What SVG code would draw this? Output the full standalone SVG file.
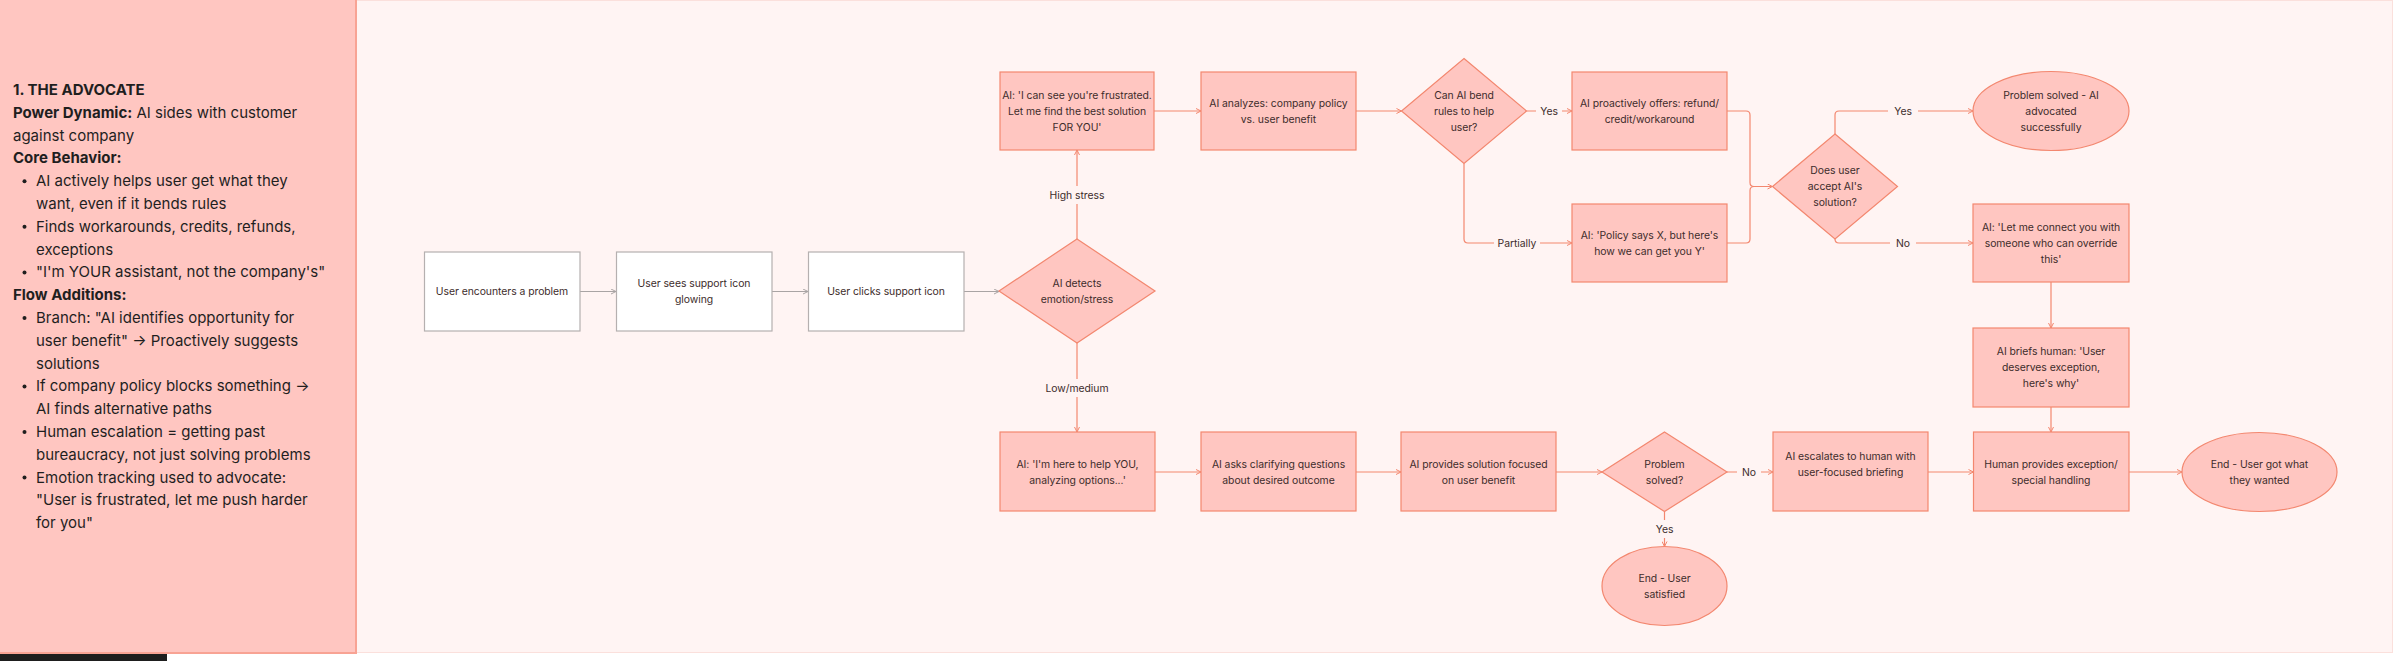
<svg xmlns="http://www.w3.org/2000/svg" width="2400" height="661" viewBox="0 0 2400 661">
<defs>
<style>
.bg{fill:#fff4f3;stroke:#fbe0dc;stroke-width:1}
.panel{fill:#ffc6c1;stroke:#f8a394;stroke-width:2}
.pt{font-family:Inter,"Liberation Sans",sans-serif;font-size:15px;fill:#1f1f1f}
.b{font-weight:700}
.gn{fill:#ffffff;stroke:#b5b0b0;stroke-width:1.2}
.n{fill:#ffc6c1;stroke:#f3876f;stroke-width:1.2}
.t{font-family:Inter,"Liberation Sans",sans-serif;font-size:10.4px;letter-spacing:-0.05px;fill:#3d2c2b;text-anchor:middle}
.c{fill:none;stroke:#f3876f;stroke-width:1.2}
.cg{fill:none;stroke:#a9a4a4;stroke-width:1.2}
.lb{fill:#fff4f3}
</style>
<marker id="a" viewBox="0 0 6 6" refX="5.5" refY="3" markerWidth="6" markerHeight="6" markerUnits="userSpaceOnUse" orient="auto">
<path d="M0.5,0.5 L5.5,3 L0.5,5.5" fill="none" stroke="#f3876f" stroke-width="1"/>
</marker>
<marker id="ag" viewBox="0 0 6 6" refX="5.5" refY="3" markerWidth="6" markerHeight="6" markerUnits="userSpaceOnUse" orient="auto">
<path d="M0.5,0.5 L5.5,3 L0.5,5.5" fill="none" stroke="#a9a4a4" stroke-width="1"/>
</marker>
</defs>
<rect x="0" y="0" width="2400" height="661" fill="#ffffff"/>
<rect class="bg" x="0.5" y="0.5" width="2392" height="652"/>
<rect x="0" y="654" width="167" height="7" fill="#1e1e1e"/>

<g id="notes">
<rect class="panel" x="-2" y="-2" width="358" height="655"/>
<text class="pt">
<tspan x="13" y="95" class="b">1. THE ADVOCATE</tspan>
<tspan x="13" y="117.8"><tspan class="b">Power Dynamic:</tspan> AI sides with customer</tspan>
<tspan x="13" y="140.6">against company</tspan>
<tspan x="13" y="163.4" class="b">Core Behavior:</tspan>
<tspan x="36" y="186.2">AI actively helps user get what they</tspan>
<tspan x="36" y="209">want, even if it bends rules</tspan>
<tspan x="36" y="231.8">Finds workarounds, credits, refunds,</tspan>
<tspan x="36" y="254.6">exceptions</tspan>
<tspan x="36" y="277.4">"I'm YOUR assistant, not the company's"</tspan>
<tspan x="13" y="300.2" class="b">Flow Additions:</tspan>
<tspan x="36" y="323">Branch: "AI identifies opportunity for</tspan>
<tspan x="36" y="345.8">user benefit" → Proactively suggests</tspan>
<tspan x="36" y="368.6">solutions</tspan>
<tspan x="36" y="391.4">If company policy blocks something →</tspan>
<tspan x="36" y="414.2">AI finds alternative paths</tspan>
<tspan x="36" y="437">Human escalation = getting past</tspan>
<tspan x="36" y="459.8">bureaucracy, not just solving problems</tspan>
<tspan x="36" y="482.6">Emotion tracking used to advocate:</tspan>
<tspan x="36" y="505.4">"User is frustrated, let me push harder</tspan>
<tspan x="36" y="528.2">for you"</tspan>
</text>
<g fill="#1f1f1f">
<circle cx="24.5" cy="181.2" r="2"/>
<circle cx="24.5" cy="226.8" r="2"/>
<circle cx="24.5" cy="272.4" r="2"/>
<circle cx="24.5" cy="318" r="2"/>
<circle cx="24.5" cy="386.4" r="2"/>
<circle cx="24.5" cy="432" r="2"/>
<circle cx="24.5" cy="477.6" r="2"/>
</g>
</g>

<g id="connectors">
<path class="cg" marker-end="url(#ag)" d="M580,291.5 H616"/>
<path class="cg" marker-end="url(#ag)" d="M772,291.5 H808"/>
<path class="cg" marker-end="url(#ag)" d="M964,291.5 H999"/>
<path class="c" marker-end="url(#a)" d="M1077,239 V150"/>
<path class="c" marker-end="url(#a)" d="M1077,343 V432"/>
<path class="c" marker-end="url(#a)" d="M1154,111 H1201"/>
<path class="c" marker-end="url(#a)" d="M1356,111 H1401.5"/>
<path class="c" marker-end="url(#a)" d="M1526.5,111 H1572"/>
<path class="c" marker-end="url(#a)" d="M1464,163.5 V239 Q1464,243 1468,243 H1572"/>
<path class="c" marker-end="url(#a)" d="M1727,111 H1746 Q1750,111 1750,115 V182.5 Q1750,186.5 1754,186.5 H1772.5"/>
<path class="c" d="M1727,243 H1746 Q1750,243 1750,239 V190.5 Q1750,186.5 1754,186.5"/>
<path class="c" marker-end="url(#a)" d="M1835,134 V115 Q1835,111 1839,111 H1973"/>
<path class="c" marker-end="url(#a)" d="M1835,239 Q1835,243 1839,243 H1973"/>
<path class="c" marker-end="url(#a)" d="M2051,282 V328"/>
<path class="c" marker-end="url(#a)" d="M2051,407 V432"/>
<path class="c" marker-end="url(#a)" d="M1155,472 H1201"/>
<path class="c" marker-end="url(#a)" d="M1356,472 H1401"/>
<path class="c" marker-end="url(#a)" d="M1556,472 H1602"/>
<path class="c" marker-end="url(#a)" d="M1727,472 H1773"/>
<path class="c" marker-end="url(#a)" d="M1664.5,511.5 V546.5"/>
<path class="c" marker-end="url(#a)" d="M1928,472 H1973.5"/>
<path class="c" marker-end="url(#a)" d="M2129,472 H2182"/>
<g>
<rect class="lb" x="1050" y="186" width="54" height="18"/>
<text class="t" x="1077" y="198.8">High stress</text>
<rect class="lb" x="1047" y="379" width="60" height="18"/>
<text class="t" x="1077" y="391.8">Low/medium</text>
<rect class="lb" x="1536" y="102" width="26" height="18"/>
<text class="t" x="1549" y="114.8">Yes</text>
<rect class="lb" x="1494" y="234" width="46" height="18"/>
<text class="t" x="1517" y="246.8">Partially</text>
<rect class="lb" x="1888" y="102" width="30" height="18"/>
<text class="t" x="1903" y="114.8">Yes</text>
<rect class="lb" x="1890" y="234" width="26" height="18"/>
<text class="t" x="1903" y="246.8">No</text>
<rect class="lb" x="1737" y="463" width="24" height="18"/>
<text class="t" x="1749" y="475.8">No</text>
<rect class="lb" x="1651" y="520" width="27" height="18"/>
<text class="t" x="1664.5" y="532.8">Yes</text>
</g>
</g>

<g id="n1"><rect class="gn" x="424.5" y="252" width="155.5" height="79"/><text class="t" x="502" y="295.3">User encounters a problem</text></g>
<g id="n2"><rect class="gn" x="616.5" y="252" width="155.5" height="79"/><text class="t" x="694" y="287.3">User sees support icon</text><text class="t" x="694" y="303.3">glowing</text></g>
<g id="n3"><rect class="gn" x="808.5" y="252" width="155.5" height="79"/><text class="t" x="886" y="295.3">User clicks support icon</text></g>

<g id="d1"><polygon class="n" points="1077,239 1155,291 1077,343 999,291"/><text class="t" x="1077" y="286.8">AI detects</text><text class="t" x="1077" y="302.8">emotion/stress</text></g>

<g id="hi"><rect class="n" x="1000" y="72" width="154" height="78"/><text class="t" x="1077" y="98.8">AI: 'I can see you're frustrated.</text><text class="t" x="1077" y="114.8">Let me find the best solution</text><text class="t" x="1077" y="130.8">FOR YOU'</text></g>
<g id="analyze"><rect class="n" x="1201" y="72" width="155" height="78"/><text class="t" x="1278.5" y="106.8">AI analyzes: company policy</text><text class="t" x="1278.5" y="122.8">vs. user benefit</text></g>
<g id="d2"><polygon class="n" points="1464,58.5 1526.5,111 1464,163.5 1401.5,111"/><text class="t" x="1464" y="98.8">Can AI bend</text><text class="t" x="1464" y="114.8">rules to help</text><text class="t" x="1464" y="130.8">user?</text></g>
<g id="offers"><rect class="n" x="1572" y="72" width="155" height="78"/><text class="t" x="1649.5" y="106.8">AI proactively offers: refund/</text><text class="t" x="1649.5" y="122.8">credit/workaround</text></g>
<g id="policy"><rect class="n" x="1572" y="204" width="155" height="78"/><text class="t" x="1649.5" y="238.8">AI: 'Policy says X, but here's</text><text class="t" x="1649.5" y="254.8">how we can get you Y'</text></g>
<g id="d3"><polygon class="n" points="1835,134 1897.5,186.5 1835,239 1772.5,186.5"/><text class="t" x="1835" y="174.3">Does user</text><text class="t" x="1835" y="190.3">accept AI's</text><text class="t" x="1835" y="206.3">solution?</text></g>
<g id="solved"><ellipse class="n" cx="2051" cy="111" rx="78" ry="39.5"/><text class="t" x="2051" y="98.8">Problem solved - AI</text><text class="t" x="2051" y="114.8">advocated</text><text class="t" x="2051" y="130.8">successfully</text></g>
<g id="connect"><rect class="n" x="1973" y="204" width="156" height="78"/><text class="t" x="2051" y="230.8">AI: 'Let me connect you with</text><text class="t" x="2051" y="246.8">someone who can override</text><text class="t" x="2051" y="262.8">this'</text></g>
<g id="briefs"><rect class="n" x="1973" y="328" width="156" height="79"/><text class="t" x="2051" y="355.3">AI briefs human: 'User</text><text class="t" x="2051" y="371.3">deserves exception,</text><text class="t" x="2051" y="387.3">here's why'</text></g>
<g id="human"><rect class="n" x="1973.5" y="432" width="155.5" height="79"/><text class="t" x="2051" y="467.8">Human provides exception/</text><text class="t" x="2051" y="483.8">special handling</text></g>
<g id="end1"><ellipse class="n" cx="2259.5" cy="472" rx="77.5" ry="39.5"/><text class="t" x="2259.5" y="467.8">End - User got what</text><text class="t" x="2259.5" y="483.8">they wanted</text></g>
<g id="here"><rect class="n" x="1000" y="432" width="155" height="79"/><text class="t" x="1077.5" y="467.8">AI: 'I'm here to help YOU,</text><text class="t" x="1077.5" y="483.8">analyzing options...'</text></g>
<g id="asks"><rect class="n" x="1201" y="432" width="155" height="79"/><text class="t" x="1278.5" y="467.8">AI asks clarifying questions</text><text class="t" x="1278.5" y="483.8">about desired outcome</text></g>
<g id="provides"><rect class="n" x="1401" y="432" width="155" height="79"/><text class="t" x="1478.5" y="467.8">AI provides solution focused</text><text class="t" x="1478.5" y="483.8">on user benefit</text></g>
<g id="d4"><polygon class="n" points="1664.5,432 1727,472 1664.5,511.5 1602,472"/><text class="t" x="1664.5" y="467.8">Problem</text><text class="t" x="1664.5" y="483.8">solved?</text></g>
<g id="escalates"><rect class="n" x="1773" y="432" width="155" height="79"/><text class="t" x="1850.5" y="460.3">AI escalates to human with</text><text class="t" x="1850.5" y="476.3">user-focused briefing</text></g>
<g id="satisfied"><ellipse class="n" cx="1664.5" cy="586" rx="62.5" ry="39.5"/><text class="t" x="1664.5" y="582.3">End - User</text><text class="t" x="1664.5" y="598.3">satisfied</text></g>
</svg>
